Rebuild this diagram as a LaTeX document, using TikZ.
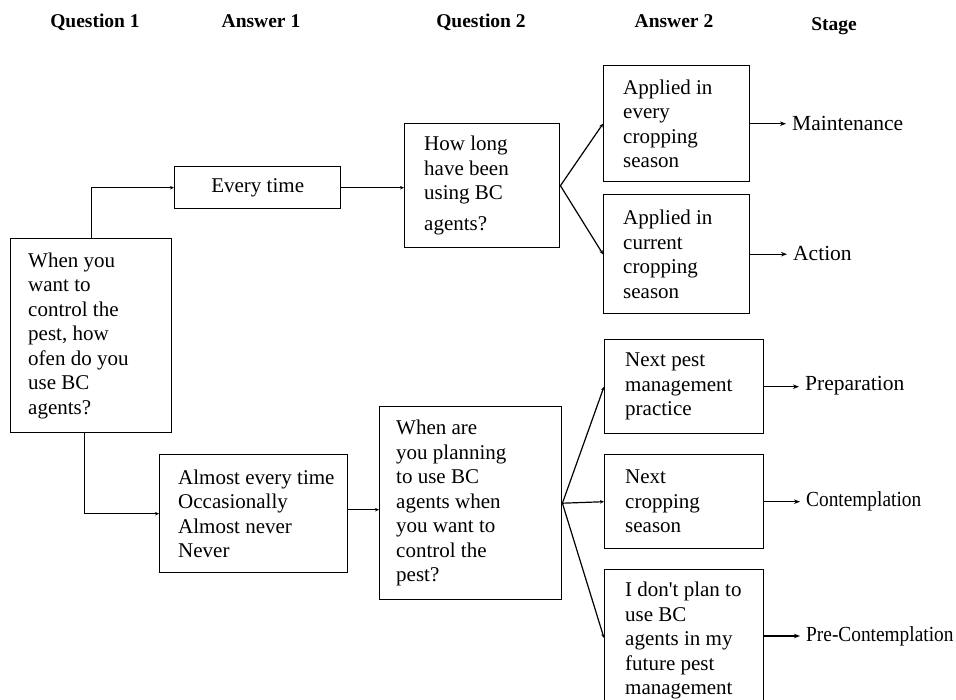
\documentclass[tikz,border=0pt]{standalone}
\usepackage{fontspec}
\setmainfont{Liberation Serif}
\usepackage{graphicx}
\usetikzlibrary{arrows.meta}
\begin{document}
\begin{tikzpicture}[x=1pt,y=-1pt,
  box/.style={draw, line width=1.4pt, inner sep=0pt, anchor=north west},
  txt/.style={inner sep=0pt, align=left, anchor=west, font=\fontsize{21pt}{24.5pt}\selectfont},
  hdr/.style={inner sep=0pt, anchor=base, font=\fontsize{19.5pt}{22pt}\selectfont\bfseries},
  stg/.style={inner xsep=6pt, inner ysep=0pt, anchor=west, font=\fontsize{21.5pt}{24.5pt}\selectfont},
  tip/.style={-{Stealth[length=4pt,width=3.5pt]}, line width=1.2pt},
  stip/.style={-{Stealth[length=6pt,width=4.5pt]}, line width=1.2pt}]
\useasboundingbox (0,0) rectangle (956,699);

% headers
\node[hdr] (h1) at (95,27) {Question 1};
\node[hdr] (h2) at (261,27) {Answer 1};
\node[hdr] (h3) at (481,27) {Question 2};
\node[hdr] (h4) at (674,27) {Answer 2};
\node[hdr] (h5) at (834,30) {Stage};

% boxes
\node[box, minimum width=161pt, minimum height=194pt] (q1) at (10,238) {};
\node[box, minimum width=166pt, minimum height=42pt] (every) at (174,166) {};
\node[box, minimum width=155pt, minimum height=124pt] (q2a) at (404,123) {};
\node[box, minimum width=146pt, minimum height=116pt] (a2a) at (603,65) {};
\node[box, minimum width=146pt, minimum height=119pt] (a2b) at (603,194) {};
\node[box, minimum width=188pt, minimum height=118pt] (a1b) at (159,454) {};
\node[box, minimum width=182pt, minimum height=193pt] (q2b) at (379,406) {};
\node[box, minimum width=159pt, minimum height=94pt] (a2c) at (604,339) {};
\node[box, minimum width=159pt, minimum height=94pt] (a2d) at (604,454) {};
\node[box, minimum width=159pt, minimum height=160pt] (a2e) at (604,569) {};

% texts
\node[txt] (tq1) at ([xshift=18pt]q1.west) {When you\\want to\\control the\\pest, how\\ofen do you\\use BC\\agents?};
\node[txt, anchor=center] (tevery) at (every.center) {Every time};
\node[txt] (tq2a) at ([xshift=20pt]q2a.west) {How long\\have been\\using BC\\[6pt]agents?};
\node[txt] (ta2a) at ([xshift=20pt]a2a.west) {Applied in\\every\\cropping\\season};
\node[txt] (ta2b) at ([xshift=20pt]a2b.west) {Applied in\\current\\cropping\\season};
\node[txt] (ta1b) at ([xshift=19pt]a1b.west) {Almost every time\\Occasionally\\Almost never\\Never};
\node[txt] (tq2b) at ([xshift=17pt]q2b.west) {When are\\you planning\\to use BC\\agents when\\you want to\\control the\\pest?};
\node[txt] (ta2c) at ([xshift=21pt]a2c.west) {Next pest\\management\\practice};
\node[txt] (ta2d) at ([xshift=21pt]a2d.west) {Next\\cropping\\season};
\node[txt, anchor=north west] (ta2e) at (625,582) {I don\textquotesingle t plan to\\use BC\\agents in my\\future pest\\management};

% stage labels
\node[stg] (maint) at (786,123) {Maintenance};
\node[stg] (action) at (787,253) {Action};
\node[stg] (prep) at (799,386) {Preparation};
\node[stg] (contemp) at (800,501) {\scalebox{0.9}[1]{Contemplation}};
\node[stg] (pre) at (800,636) {\scalebox{0.9}[1]{Pre-Contemplation}};

% connectors
\draw[tip] (q1.north) |- (every.west);
\draw[tip] (every.east) -- (every.east -| q2a.west);
\draw[tip] (q2a.east) -- (a2a.west);
\draw[tip] (q2a.east) -- (a2b.west);
\draw[tip] ([xshift=-7pt]q1.south) |- (a1b.west);
\draw[tip] ([yshift=4pt]a1b.east) -- ([yshift=4pt]a1b.east -| q2b.west);
\coordinate (a2ein) at ([yshift=-69pt]a2e.north west);
\coordinate (a2eout) at ([yshift=-67pt]a2e.north east);
\draw[tip] (q2b.east) -- (a2c.west);
\draw[tip] (q2b.east) -- (a2d.west);
\draw[tip] (q2b.east) -- (a2ein);

\draw[stip] (a2a.east) -- (a2a.east -| maint.west);
\draw[stip] (a2b.east) -- (a2b.east -| action.west);
\draw[stip] (a2c.east) -- (a2c.east -| prep.west);
\draw[stip] (a2d.east) -- (a2d.east -| contemp.west);
\draw[stip] (a2eout) -- (a2eout -| pre.west);
\end{tikzpicture}
\end{document}
